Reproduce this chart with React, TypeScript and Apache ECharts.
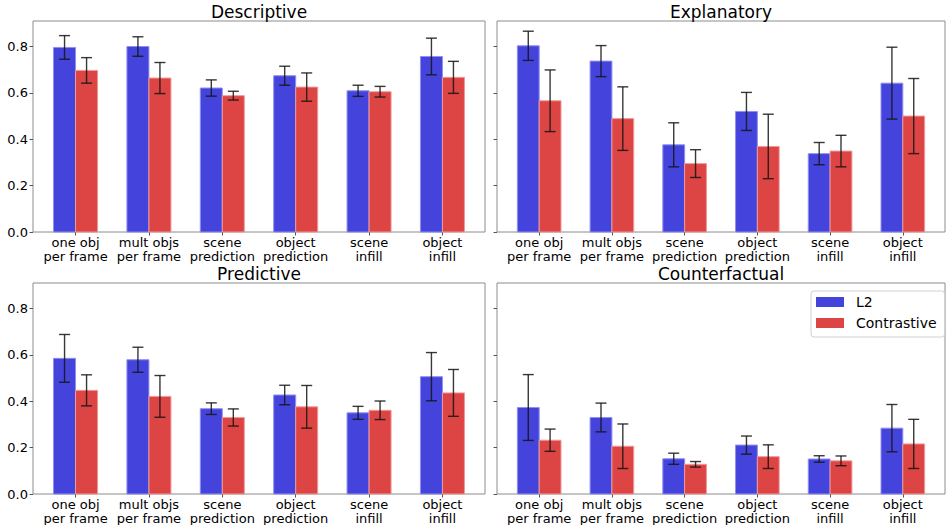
import React, { useEffect, useRef } from "react";
import * as echarts from "echarts";

const categories = [
  "one obj\nper frame",
  "mult objs\nper frame",
  "scene\nprediction",
  "object\nprediction",
  "scene\ninfill",
  "object\ninfill",
];
const methods = ["L2", "Contrastive"];
const panelTitles = ["Descriptive", "Explanatory", "Predictive", "Counterfactual"];
const yTicks = [0, 0.2, 0.4, 0.6, 0.8];

// means and half-width error bars, per panel
const descriptiveL2 = [0.796, 0.8, 0.621, 0.674, 0.609, 0.757];
const descriptiveL2Err = [0.051, 0.042, 0.035, 0.041, 0.024, 0.079];
const descriptiveCon = [0.697, 0.664, 0.588, 0.625, 0.605, 0.667];
const descriptiveConErr = [0.055, 0.067, 0.019, 0.061, 0.023, 0.069];

const explanatoryL2 = [0.803, 0.737, 0.376, 0.52, 0.338, 0.642];
const explanatoryL2Err = [0.063, 0.067, 0.095, 0.082, 0.048, 0.155];
const explanatoryCon = [0.566, 0.489, 0.295, 0.369, 0.349, 0.5];
const explanatoryConErr = [0.133, 0.137, 0.06, 0.139, 0.068, 0.162];

const predictiveL2 = [0.585, 0.579, 0.368, 0.427, 0.35, 0.506];
const predictiveL2Err = [0.103, 0.054, 0.025, 0.042, 0.028, 0.104];
const predictiveCon = [0.447, 0.421, 0.33, 0.376, 0.361, 0.436];
const predictiveConErr = [0.067, 0.09, 0.037, 0.092, 0.04, 0.101];

const counterfactualL2 = [0.373, 0.33, 0.152, 0.211, 0.151, 0.284];
const counterfactualL2Err = [0.142, 0.062, 0.024, 0.039, 0.014, 0.102];
const counterfactualCon = [0.232, 0.206, 0.128, 0.161, 0.143, 0.216];
const counterfactualConErr = [0.048, 0.096, 0.012, 0.051, 0.021, 0.106];

const panelData = [
  [descriptiveL2, descriptiveL2Err, descriptiveCon, descriptiveConErr],
  [explanatoryL2, explanatoryL2Err, explanatoryCon, explanatoryConErr],
  [predictiveL2, predictiveL2Err, predictiveCon, predictiveConErr],
  [counterfactualL2, counterfactualL2Err, counterfactualCon, counterfactualConErr],
];

const COLORS = ["#4444dd", "#dd4444"];
const EDGES = ["#8f8ff0", "#f09a9a"];
const BAR_W = 0.3;
const FONT = "DejaVu Sans";

const grids = [
  { left: 33, top: 21, width: 452, height: 211 },
  { left: 497, top: 21, width: 448, height: 211 },
  { left: 33, top: 283, width: 452, height: 211 },
  { left: 497, top: 283, width: 448, height: 211 },
];

export default function App() {
  const ref = useRef<HTMLDivElement>(null);
  useEffect(() => {
    document.body.style.margin = "0";
    if (!ref.current) return;
    const chart = echarts.init(ref.current, null, { renderer: "svg" });

    const series: any[] = [];
    panelData.forEach((pd, gi) => {
      methods.forEach((m, mi) => {
        const offset = mi === 0 ? -BAR_W / 2 : BAR_W / 2;
        const means = pd[mi * 2];
        const errs = pd[mi * 2 + 1];
        series.push({
          type: "custom",
          name: m,
          xAxisIndex: gi,
          yAxisIndex: gi,
          itemStyle: { color: COLORS[mi] },
          encode: { x: 0, y: 1 },
          z: 2,
          data: means.map((v, i) => [i, v]),
          renderItem: (params: any, api: any) => {
            const x = api.value(0) + offset;
            const y = api.value(1);
            const p0 = api.coord([x - BAR_W / 2, y]);
            const p1 = api.coord([x + BAR_W / 2, 0]);
            return {
              type: "rect",
              shape: { x: p0[0], y: p0[1], width: p1[0] - p0[0], height: p1[1] - p0[1] },
              style: { fill: COLORS[mi], stroke: EDGES[mi], lineWidth: 1 },
            };
          },
        });
        series.push({
          type: "custom",
          name: m + " error",
          xAxisIndex: gi,
          yAxisIndex: gi,
          encode: { x: 0, y: 1 },
          z: 5,
          data: means.map((v, i) => [i, v, errs[i]]),
          renderItem: (params: any, api: any) => {
            const x = api.value(0) + offset;
            const mv = api.value(1);
            const e = api.value(2);
            const hi = api.coord([x, mv + e]);
            const lo = api.coord([x, mv - e]);
            const cw = 5.5;
            const st = { stroke: "#151515", lineWidth: 1.4, opacity: 0.85 };
            return {
              type: "group",
              children: [
                { type: "line", shape: { x1: hi[0], y1: hi[1], x2: lo[0], y2: lo[1] }, style: st },
                { type: "line", shape: { x1: hi[0] - cw, y1: hi[1], x2: hi[0] + cw, y2: hi[1] }, style: st },
                { type: "line", shape: { x1: lo[0] - cw, y1: lo[1], x2: lo[0] + cw, y2: lo[1] }, style: st },
              ],
            };
          },
        });
      });
    });

    const option: any = {
      animation: false,
      backgroundColor: "#ffffff",
      textStyle: { fontFamily: FONT },
      title: panelTitles.map((t, i) => ({
        text: t,
        left: grids[i].left + grids[i].width / 2,
        top: grids[i].top - 18,
        textAlign: "center",
        padding: 0,
        textStyle: { fontFamily: FONT, fontSize: 17, lineHeight: 17, fontWeight: "normal", color: "#000" },
      })),
      legend: {
        data: methods,
        orient: "vertical",
        left: 811,
        top: 291,
        icon: "rect",
        itemWidth: 28,
        itemHeight: 10,
        itemGap: 5,
        padding: [3, 8, 6, 5],
        borderColor: "#d0d0d0",
        borderWidth: 1,
        borderRadius: 3,
        backgroundColor: "rgba(255,255,255,0.85)",
        textStyle: { fontFamily: FONT, fontSize: 14, color: "#000", lineHeight: 16, padding: [0, 0, 0, 7] },
      },
      grid: grids.map((g) => ({
        ...g,
        show: true,
        borderColor: "#8c8c8c",
        borderWidth: 1,
        backgroundColor: "transparent",
      })),
      xAxis: grids.map((g, i) => ({
        type: "value",
        gridIndex: i,
        min: -0.58,
        max: 5.58,
        splitLine: { show: false },
        axisLine: { show: false, onZero: false },
        axisTick: {
          show: true,
          length: 3.5,
          customValues: categories.map((_, k) => k),
          lineStyle: { color: "#555" },
        },
        axisLabel: {
          customValues: categories.map((_, k) => k),
          formatter: (v: number) => categories[Math.round(v)] ?? "",
          fontFamily: FONT,
          fontSize: 13,
          lineHeight: 14,
          color: "#000",
          margin: 3,
        },
      })),
      yAxis: grids.map((g, i) => ({
        type: "value",
        gridIndex: i,
        min: 0,
        max: 0.91,
        interval: 0.2,
        splitLine: { show: false },
        axisLine: { show: false, onZero: false },
        axisTick: {
          show: true,
          length: 3.5,
          customValues: yTicks,
          lineStyle: { color: "#555" },
        },
        axisLabel: {
          show: i % 2 === 0,
          customValues: yTicks,
          formatter: (v: number) => v.toFixed(1),
          fontFamily: FONT,
          fontSize: 13,
          color: "#000",
          margin: 5,
        },
      })),
      series,
    };
    chart.setOption(option);
    return () => chart.dispose();
  }, []);
  return <div ref={ref} style={{ width: 951, height: 525 }} />;
}
